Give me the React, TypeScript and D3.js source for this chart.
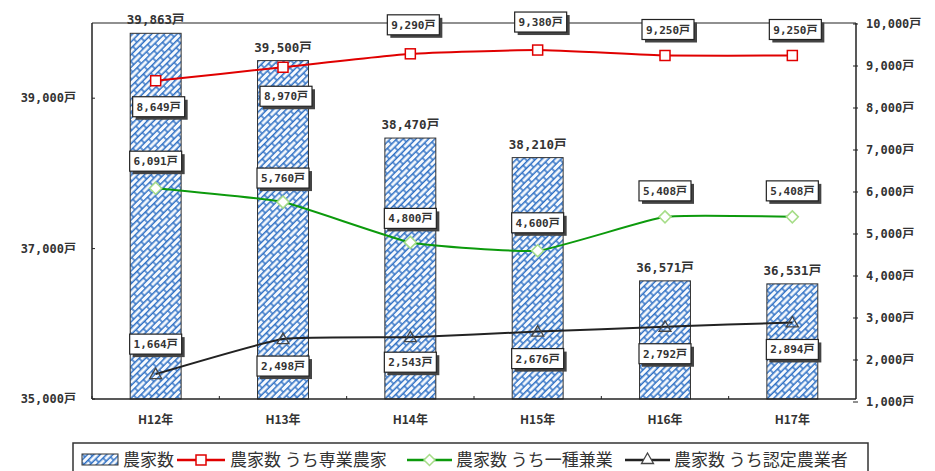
import React from "react";
import * as d3 from "d3";

const categories = ["H12年", "H13年", "H14年", "H15年", "H16年", "H17年"];
const farmTotal = [39863, 39500, 38470, 38210, 36571, 36531];
const fullTime = [8649, 8970, 9290, 9380, 9250, 9250];
const partTime1 = [6091, 5760, 4800, 4600, 5408, 5408];
const certified = [1664, 2498, 2543, 2676, 2792, 2894];
const leftTicks = [35000, 37000, 39000];
const rightTicks = [1000, 2000, 3000, 4000, 5000, 6000, 7000, 8000, 9000, 10000];
const legendLabels = ["農家数", "農家数 うち専業農家", "農家数 うち一種兼業", "農家数 うち認定農業者"];

// label layout offsets (px, relative to the point)
const redDy = [26, 29, -29, -28, -26, -26];
const greenDy = [-27, -24, -24, -28, -26, -26];
const blackDy = [-30, 27, 25, 27, 27, 27];

const W = 935, H = 471;
const L = 92, R = 856, T = 23, B = 399;
const fmt = d3.format(",");
const monoFont = "'DejaVu Sans Mono', 'Noto Sans CJK JP', monospace";
const cjkFont = "'Noto Sans CJK JP', sans-serif";
const textColor = "#333";

function LabelBox({ x, y, text }: { x: number; y: number; text: string }) {
  const w = 52, h = 20;
  return (
    <g>
      <rect x={x - w / 2 + 3} y={y - h / 2 + 3} width={w} height={h} fill="#444" />
      <rect x={x - w / 2} y={y - h / 2} width={w} height={h} fill="#fff" stroke="#222" strokeWidth={1.2} />
      <text x={x} y={y + 4} textAnchor="middle" fontFamily={monoFont} fontSize={11} fontWeight="bold" fill="#333">
        {text}
      </text>
    </g>
  );
}

export default function App() {
  const x = d3.scaleBand<string>().domain(categories).range([L, R]).paddingInner(0.6).paddingOuter(0.3);
  const yL = d3.scaleLinear().domain([35000, 40000]).range([B, T]);
  const yR = d3.scaleLinear().domain([1000, 10000]).range([402, 24]);
  const cx = (i: number) => (x(categories[i]) as number) + x.bandwidth() / 2;
  const step = x.step();

  const line = d3
    .line<number>()
    .x((_, i) => cx(i))
    .y((d) => yR(d))
    .curve(d3.curveCardinal.tension(0.6));

  const diamond = (px: number, py: number, r: number) =>
    `M${px},${py - r}L${px + r},${py}L${px},${py + r}L${px - r},${py}Z`;
  const tri = (px: number, py: number, r: number) =>
    `M${px},${py - r}L${px + r},${py + r * 0.75}L${px - r},${py + r * 0.75}Z`;

  const legY = 460;
  return (
    <svg width={W} height={H} style={{ position: "absolute", left: 0, top: 0, background: "#fff" }}>
      <defs>
        <pattern id="weave" width={12} height={9} patternUnits="userSpaceOnUse" patternTransform="rotate(-45)">
          <rect width={12} height={9} fill="#f6f9fd" />
          <path d="M0,0.7H12M0,5.2H12M1,0.7V5.2M7,5.2V9.7" stroke="#2d6fc4" strokeWidth={1.4} fill="none" />
        </pattern>
      </defs>

      {/* frame */}
      <line x1={L} x2={R} y1={T} y2={T} stroke="#222" strokeWidth={1.2} />
      <line x1={L} x2={L} y1={T} y2={B} stroke="#222" strokeWidth={1.5} />
      <line x1={R} x2={R} y1={T} y2={B} stroke="#222" strokeWidth={1.5} />

      {/* bars */}
      {farmTotal.map((v, i) => (
        <g key={"b" + i}>
          <rect
            x={x(categories[i])}
            y={yL(v)}
            width={x.bandwidth()}
            height={B - yL(v)}
            fill="url(#weave)"
            stroke="#333"
            strokeWidth={1}
          />
          <text x={cx(i)} y={yL(v) - 9} textAnchor="middle" fontFamily={monoFont} fontSize={12.5} fontWeight="bold" fill={textColor}>
            {fmt(v)}戸
          </text>
        </g>
      ))}

      <line x1={L} x2={R} y1={B} y2={B} stroke="#222" strokeWidth={1.5} />
      {categories.map((c, i) => (
        <line key={"xt" + i} x1={L + step * i} x2={L + step * i} y1={B} y2={B - 3} stroke="#222" />
      ))}
      {categories.map((c, i) => (
        <text key={"xl" + i} x={cx(i)} y={424} textAnchor="middle" fontFamily={cjkFont} fontSize={12} fontWeight="bold" fill={textColor}>
          {c}
        </text>
      ))}

      {/* left axis */}
      {leftTicks.map((t) => (
        <g key={"lt" + t}>
          <line x1={L} x2={L + 3} y1={yL(t)} y2={yL(t)} stroke="#222" />
          <text x={76} y={yL(t) + 4} textAnchor="end" fontFamily={monoFont} fontSize={12} fontWeight="bold" fill={textColor}>
            {fmt(t)}戸
          </text>
        </g>
      ))}

      {/* right axis */}
      {rightTicks.map((t) => (
        <g key={"rt" + t}>
          <line x1={R - 3} x2={R + 2} y1={yR(t)} y2={yR(t)} stroke="#222" />
          <text x={866} y={yR(t) + 4} textAnchor="start" fontFamily={monoFont} fontSize={12} fontWeight="bold" fill={textColor}>
            {fmt(t)}戸
          </text>
        </g>
      ))}

      {/* lines */}
      <path d={line(fullTime) || ""} fill="none" stroke="#e00000" strokeWidth={2} />
      <path d={line(partTime1) || ""} fill="none" stroke="#0c9a0c" strokeWidth={2} />
      <path d={line(certified) || ""} fill="none" stroke="#222" strokeWidth={2} />

      {fullTime.map((v, i) => (
        <rect key={"rm" + i} x={cx(i) - 5} y={yR(v) - 5} width={10} height={10} fill="#fff" stroke="#e00000" strokeWidth={1.5} />
      ))}
      {partTime1.map((v, i) => (
        <path key={"gm" + i} d={diamond(cx(i), yR(v), 6)} fill="#fff" stroke="#a6dd88" strokeWidth={1.5} />
      ))}
      {certified.map((v, i) => (
        <path key={"km" + i} d={tri(cx(i), yR(v), 6)} fill="none" stroke="#444" strokeWidth={1.3} />
      ))}

      {/* data labels */}
      {fullTime.map((v, i) => (
        <LabelBox key={"rl" + i} x={cx(i) + 3} y={yR(v) + redDy[i]} text={fmt(v) + "戸"} />
      ))}
      {partTime1.map((v, i) => (
        <LabelBox key={"gl" + i} x={cx(i)} y={yR(v) + greenDy[i]} text={fmt(v) + "戸"} />
      ))}
      {certified.map((v, i) => (
        <LabelBox key={"kl" + i} x={cx(i)} y={yR(v) + blackDy[i]} text={fmt(v) + "戸"} />
      ))}

      {/* legend */}
      <rect x={73} y={443} width={795} height={40} fill="#fff" stroke="#333" strokeWidth={1.5} />
      <rect x={82} y={454} width={36} height={11} fill="url(#weave)" stroke="#333" strokeWidth={1} />
      <text x={123} y={legY + 6} fontFamily={cjkFont} fontSize={17} fill={textColor}>{legendLabels[0]}</text>
      <line x1={177} x2={225} y1={legY} y2={legY} stroke="#e00000" strokeWidth={2.5} />
      <rect x={196} y={legY - 5} width={10} height={10} fill="#fff" stroke="#e00000" strokeWidth={1.5} />
      <text x={230} y={legY + 6} fontFamily={cjkFont} fontSize={17} fill={textColor}>{legendLabels[1]}</text>
      <line x1={407} x2={452} y1={legY} y2={legY} stroke="#0c9a0c" strokeWidth={2.5} />
      <path d={diamond(429.5, legY, 5.5)} fill="#fff" stroke="#a6dd88" strokeWidth={1.5} />
      <text x={456} y={legY + 6} fontFamily={cjkFont} fontSize={17} fill={textColor}>{legendLabels[2]}</text>
      <line x1={625} x2={670} y1={legY} y2={legY} stroke="#222" strokeWidth={2.5} />
      <path d={tri(647.5, legY - 1, 6)} fill="#fff" stroke="#444" strokeWidth={1.3} />
      <text x={674} y={legY + 6} fontFamily={cjkFont} fontSize={17} fill={textColor}>{legendLabels[3]}</text>
    </svg>
  );
}
